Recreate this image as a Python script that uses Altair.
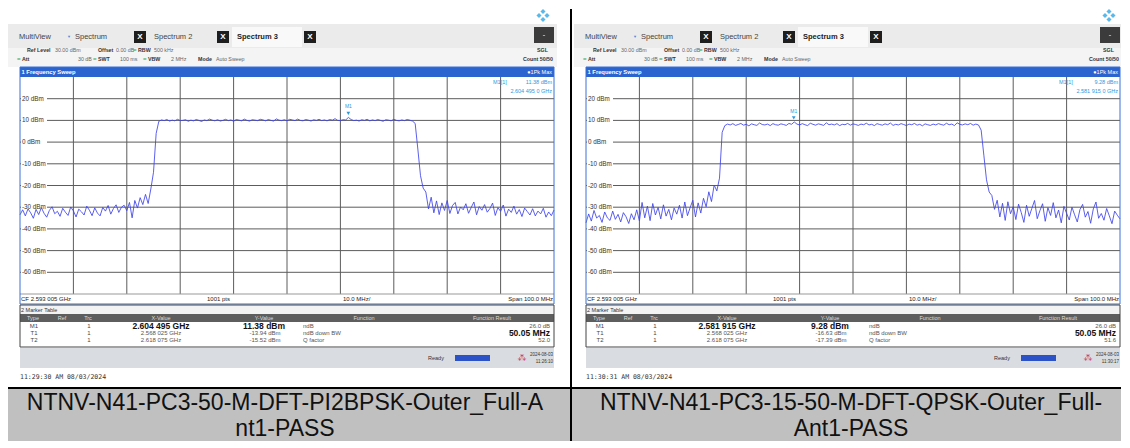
import altair as alt
import pandas as pd
import numpy as np

# ---------------- data ----------------
FREQ_START_MHZ = -50.0   # offset from CF 2.593 005 GHz
FREQ_STEP_MHZ = 0.5

LEFT_DBM = [
    # -50 .. -30 MHz
    -33.5, -31.2, -34.0, -30.8, -32.6, -35.1, -31.0, -33.4, -30.2, -32.8,
    -34.6, -31.5, -29.8, -33.0, -31.9, -34.2, -30.5, -32.3, -33.8, -29.9,
    -31.7, -34.5, -30.9, -32.1, -33.6, -29.5, -31.4, -33.9, -30.3, -32.7,
    -34.0, -30.1, -31.8, -29.2, -33.2, -30.6, -28.9, -32.4, -30.0, -29.1,
    -31.6,
    # -29.5 .. -25.5
    -27.8, -34.9, -26.9, -30.4, -25.6, -28.8, -24.1, -28.3, -21.6,
    # -25, -24.5
    -13.9, 4.0,
    # -24 .. 23 flat
    9.6, 10.2, 9.9, 10.4, 9.7, 10.1, 9.8, 10.5, 9.9, 10.0,
    10.3, 9.6, 10.1, 9.8, 10.4, 10.0, 9.5, 10.2, 9.9, 10.6,
    10.1, 9.8, 10.3, 9.7, 10.0, 10.5, 9.9, 10.2, 9.6, 10.4,
    10.1, 9.8, 10.6, 10.0, 9.7, 10.3, 10.1, 9.9, 10.5, 10.2,
    9.8, 10.4, 10.0, 9.7, 10.7, 10.1, 9.9, 10.3, 9.8, 10.5,
    10.2, 9.9, 10.6, 10.0, 9.8, 10.4, 10.1, 9.7, 10.3, 10.0,
    10.5, 9.9, 10.2, 9.8, 10.4, 10.1, 10.8, 10.0, 9.9, 10.3,
    10.2, 11.38, 10.4, 9.9, 10.1, 9.7, 10.3, 10.0, 10.5, 9.8,
    10.2, 9.9, 10.4, 10.0, 9.6, 10.3, 10.1, 9.8, 10.5, 10.0,
    9.8, 10.2, 9.9, 10.4, 10.1,
    # 23.5 .. 26
    9.7, 8.6, -3.2, -15.5, -21.2, -23.0,
    # 26.5 .. 50
    -30.8, -25.4, -32.6, -27.1, -33.4, -28.0, -31.5, -26.9, -32.9, -29.2,
    -27.8, -33.1, -29.9, -31.2, -28.4, -32.8, -30.1, -27.6, -33.5, -29.7,
    -31.4, -28.8, -32.3, -30.6, -28.1, -33.8, -30.2, -31.9, -29.0, -34.1,
    -30.9, -32.4, -29.5, -33.2, -31.1, -34.3, -30.4, -32.0, -33.6, -30.7,
    -34.0, -31.8, -33.1, -30.5, -34.6, -32.2, -33.9, -31.3,
]

RIGHT_DBM = [
    # -50 .. -40 MHz
    -37.2, -33.1, -36.4, -31.5, -35.0, -33.8, -37.0, -32.2, -34.9, -36.1,
    -31.8, -35.6, -33.3, -36.8, -32.5, -34.4, -37.5, -33.0, -35.8, -31.2,
    -36.3,
    # -39.5 .. -33.5
    -27.8, -34.9, -29.5, -36.2, -28.3, -33.6, -30.1, -35.4, -28.9, -34.1,
    -31.0, -35.8, -30.4,
    # -33 .. -28
    -33.2, -29.1, -35.0, -27.6, -33.9, -30.2, -26.8, -34.5, -28.0, -32.7,
    -25.9,
    # -27.5 .. -25.5
    -29.8, -22.9, -27.4, -19.8, -22.5,
    # -25, -24.5
    -16.6, 4.5,
    # -24 .. 23.5 flat
    7.6, 8.3, 7.9, 8.5, 7.7, 8.1, 8.6, 7.8, 8.2, 7.5,
    8.4, 8.0, 7.7, 8.8, 8.1, 7.9, 8.3, 7.6, 8.5, 8.0,
    7.8, 8.4, 8.1, 7.7, 8.6, 8.2, 9.28, 8.3, 7.9, 8.5,
    8.0, 7.6, 8.7, 8.2, 7.8, 8.4, 8.1, 7.7, 8.9, 8.0,
    8.3, 7.9, 8.5, 7.6, 8.2, 8.0, 8.6, 7.8, 8.4, 8.1,
    7.7, 8.3, 8.0, 8.7, 7.9, 8.2, 7.6, 8.5, 8.1, 7.8,
    8.4, 8.0, 8.8, 7.7, 8.2, 7.9, 8.5, 8.1, 7.6, 8.3,
    8.0, 8.6, 7.8, 8.2, 7.5, 8.4, 8.0, 7.7, 8.3, 7.9,
    8.5, 8.1, 7.8, 8.7, 8.0, 8.3, 7.6, 8.9, 8.2, 7.9,
    8.4, 8.0, 8.6, 7.8, 8.3, 7.9,
    # 24 .. 26
    5.5, -6.0, -17.4, -23.0, -24.6,
    # 26.5 .. 50
    -31.0, -26.8, -34.5, -28.2, -36.1, -27.5, -33.0, -29.8, -35.7, -28.6,
    -32.4, -37.0, -29.1, -34.2, -30.5, -26.9, -35.3, -31.6, -28.4, -36.5,
    -30.2, -33.8, -27.9, -34.9, -31.3, -37.2, -29.6, -32.8, -35.9, -30.0,
    -33.5, -36.8, -31.1, -28.7, -34.6, -32.0, -37.4, -30.8, -27.6, -35.1,
    -32.9, -36.0, -30.6, -34.0, -37.6, -31.8, -33.7, -35.4,
]

GRID_DBM = [20, 10, 0, -10, -20, -30, -40, -50, -60]
GRID_LABELS = ["20 dBm", "10 dBm", "0 dBm", "-10 dBm", "-20 dBm", "-30 dBm",
               "-40 dBm", "-50 dBm", "-60 dBm"]
GRID_MHZ = [-40, -30, -20, -10, 0, 10, 20, 30, 40]

M1_FREQ_MHZ = [11.49, -11.09]
M1_DBM = [11.38, 9.28]
M1_X_TEXT = ["2.604 495 GHz", "2.581 915 GHz"]
M1_Y_TEXT = ["11.38 dBm", "9.28 dBm"]
M1_READOUT = ["2.604 495 0 GHz", "2.581 915 0 GHz"]
T1_X_TEXT = ["2.568 025 GHz", "2.568 025 GHz"]
T1_Y_TEXT = ["-13.94 dBm", "-16.63 dBm"]
T2_X_TEXT = ["2.618 075 GHz", "2.618 075 GHz"]
T2_Y_TEXT = ["-15.52 dBm", "-17.39 dBm"]
Q_FACTOR = ["52.0", "51.6"]
STATUS_TIME = ["11:26:10", "11:30:17"]
STAMP = ["11:29:30 AM  08/03/2024", "11:30:31 AM  08/03/2024"]
CAPTION_1 = ["NTNV-N41-PC3-50-M-DFT-PI2BPSK-Outer_Full-A",
             "NTNV-N41-PC3-15-50-M-DFT-QPSK-Outer_Full-"]
CAPTION_2 = ["nt1-PASS", "Ant1-PASS"]

# ---------------- layout / style ----------------
W, H, TOP, BOTTOM = 534, 217, 76, 440
PLOT_LEFT = [20, 586]
PANEL_LEFT = [8, 572]
PANEL_RIGHT = [572, 1121]

UI = "Liberation Sans"
MONO = "DejaVu Sans Mono"
CAP_FONT = "Liberation Sans"
BLUE_BAR = "#2b63cf"
FRAME = "#3a70d6"
LB = "#2b9be0"
GRID = "#5c5c5c"
TRACE = "#3f43e8"

XS = alt.Scale(domain=[-50, 50], nice=False, zero=False)
YS = alt.Scale(domain=[-70, 30], nice=False, zero=False)
ONE = alt.InlineData(values=[{"a": 1}])


def panel(k):
    PL = PLOT_LEFT[k]
    P0 = PANEL_LEFT[k] - PL
    P1 = PANEL_RIGHT[k] - PL
    L = []

    def box(x0, x1, y0, y1, **kw):
        x0 = max(x0, P0)
        x1 = min(x1, P1)
        L.append(alt.Chart(ONE).mark_rect(**kw).encode(
            x=alt.value(x0), x2=alt.value(x1),
            y=alt.value(y0 - TOP), y2=alt.value(y1 - TOP)))

    def txt(x, y, s, size=5.5, color="#333333", bold=False, align="left", font=UI):
        kw = dict(text=s, fontSize=size, color=color, align=align,
                  baseline="middle", font=font)
        if bold:
            kw["fontWeight"] = "bold"
        L.append(alt.Chart(ONE).mark_text(**kw).encode(
            x=alt.value(x), y=alt.value(y - TOP)))

    def dot(x, y, size, color, shape="diamond"):
        L.append(alt.Chart(ONE).mark_point(shape=shape, filled=True, size=size,
                                           color=color, opacity=1).encode(
            x=alt.value(x), y=alt.value(y - TOP)))

    # bounds of the panel
    box(P0, P1, 8, BOTTOM, fill="white", fillOpacity=0)

    # header
    box(-12, W + 3, 23, 47, fill="#ebebeb")
    box(-12, W + 3, 47, 66, fill="#f4f4f4")
    box(212, 282, 26, 46, fill="#f9f9f9")
    box(W - 20, W, 26, 42, fill="#3b3b3b")
    txt(W - 10, 34, "-", size=7, color="white", align="center")
    # R&S style logo: four small diamonds
    lx, ly = W - 11, 14.5
    for ddx, ddy in ((0, -4), (-4, 0), (4, 0), (0, 4)):
        dot(lx + ddx, ly + ddy, 26, "#5ab8e8")
    txt(-1, 36, "MultiView", size=7.5, color="#444444")
    txt(47, 36, "\u25BC", size=4, color="#3b8fd9")
    txt(55, 36, "Spectrum", size=7.5, color="#444444")
    for bx in (114, 197, 284):
        box(bx, bx + 12, 30, 42, fill="#1e1e1e")
        txt(bx + 6, 36, "X", size=8, color="white", bold=True, align="center")
    txt(134, 36, "Spectrum 2", size=7.5, color="#444444")
    txt(217, 36, "Spectrum 3", size=7.5, color="#222222", bold=True)

    txt(7, 48.5, "Ref Level", size=5.3, bold=True)
    txt(35, 48.5, "30.00 dBm", size=5.3, color="#666666")
    txt(78, 48.5, "Offset", size=5.3, bold=True)
    txt(96, 48.5, "0.00 dB", size=5.3, color="#666666")
    txt(113, 48.5, "=", size=6, color="#2fa84f", bold=True)
    txt(118, 48.5, "RBW", size=5.3, bold=True)
    txt(134, 48.5, "500 kHz", size=5.3, color="#666666")
    txt(W - 17, 48.5, "SGL", size=5.3, bold=True)

    txt(-3, 57.5, "=", size=6, color="#2fa84f", bold=True)
    txt(2, 57.5, "Att", size=5.3, bold=True)
    txt(58, 57.5, "30 dB", size=5.3, color="#666666")
    txt(73, 57.5, "=", size=6, color="#2fa84f", bold=True)
    txt(78, 57.5, "SWT", size=5.3, bold=True)
    txt(100, 57.5, "100 ms", size=5.3, color="#666666")
    txt(123, 57.5, "=", size=6, color="#2fa84f", bold=True)
    txt(128, 57.5, "VBW", size=5.3, bold=True)
    txt(151, 57.5, "2 MHz", size=5.3, color="#666666")
    txt(178, 57.5, "Mode", size=5.3, bold=True)
    txt(196, 57.5, "Auto Sweep", size=5.3, color="#666666")
    txt(W - 1, 57.5, "Count 50/50", size=5.3, bold=True, align="right")

    # blue title bar
    box(0, W, 66, 76, fill=BLUE_BAR)
    txt(1.5, 71, "1 Frequency Sweep", size=5.8, color="white", bold=True)
    txt(W - 2, 71, "\u25CF1Pk Max", size=5.5, color="white", align="right")

    # status bar and marker table backgrounds
    box(0, W, 304, 313, fill="#f3f3f3")
    box(0, W, 313, 321, fill="#5e5e5e")
    box(0, W, 347, 367, fill="#d9dde2")
    box(435, 470, 354, 360, fill="#2c52c8")

    # caption area
    box(P0, P1, 386, 388, fill="black")
    box(P0, P1, 388, BOTTOM, fill="#c0c0c0")
    if k == 0:
        box(550, 552, 8, BOTTOM, fill="black")

    # grid
    L.append(alt.Chart(pd.DataFrame({"dbm": GRID_DBM})).mark_rule(
        color=GRID, strokeWidth=1).encode(
        y=alt.Y("dbm:Q", scale=YS, axis=None), x=alt.value(0), x2=alt.value(W)))
    L.append(alt.Chart(pd.DataFrame({"f": GRID_MHZ})).mark_rule(
        color=GRID, strokeWidth=1).encode(
        x=alt.X("f:Q", scale=XS, axis=None), y=alt.value(0), y2=alt.value(H)))
    box(0, W, TOP + H - 0.5, TOP + H + 0.5, fill="#9a9a9a")

    # y labels
    lab = pd.DataFrame({"dbm": GRID_DBM, "label": GRID_LABELS})
    L.append(alt.Chart(lab).transform_calculate(
        lo="datum.dbm - 1.6", hi="datum.dbm + 1.6").mark_rect(fill="white").encode(
        y=alt.Y("lo:Q", scale=YS, axis=None), y2="hi:Q",
        x=alt.value(1), x2=alt.value(27)))
    L.append(alt.Chart(lab).mark_text(align="left", baseline="middle", fontSize=6.3,
                                      color="#333333", font=UI).encode(
        y=alt.Y("dbm:Q", scale=YS, axis=None), text="label:N", x=alt.value(2)))

    # trace
    dbm = LEFT_DBM if k == 0 else RIGHT_DBM
    freq = FREQ_START_MHZ + FREQ_STEP_MHZ * np.arange(len(dbm))
    tr = pd.DataFrame({"f": freq, "dbm": dbm})
    L.append(alt.Chart(tr).mark_line(color=TRACE, strokeWidth=0.85).encode(
        x=alt.X("f:Q", scale=XS, axis=None), y=alt.Y("dbm:Q", scale=YS, axis=None)))

    # marker M1
    mk = pd.DataFrame({"f": [M1_FREQ_MHZ[k]], "dbm": [M1_DBM[k]]})
    L.append(alt.Chart(mk).mark_point(shape="triangle-down", filled=True, size=14,
                                      color=LB, opacity=1, yOffset=-4).encode(
        x=alt.X("f:Q", scale=XS, axis=None), y=alt.Y("dbm:Q", scale=YS, axis=None)))
    L.append(alt.Chart(mk).mark_text(text="M1", fontSize=5, color=LB, yOffset=-11,
                                     font=UI).encode(
        x=alt.X("f:Q", scale=XS, axis=None), y=alt.Y("dbm:Q", scale=YS, axis=None)))

    # frames
    box(0, W, 66, 303, fillOpacity=0, stroke=FRAME, strokeWidth=1)
    box(0, W, 304, 346, fillOpacity=0, stroke="#444444", strokeWidth=1)

    # marker readout
    txt(473, 81, "M1[1]", size=5.5, color=LB)
    txt(W - 2, 81, M1_Y_TEXT[k], size=5.5, color=LB, align="right")
    txt(W - 2, 90, M1_READOUT[k], size=5.5, color=LB, align="right")

    # bottom info row
    txt(1, 298, "CF 2.593 005 GHz", size=6, color="#222222")
    txt(187, 298, "1001 pts", size=6, color="#222222")
    txt(323, 298, "10.0 MHz/", size=6, color="#222222")
    txt(W - 1, 298, "Span 100.0 MHz", size=6, color="#222222", align="right")

    # marker table
    txt(1, 308.5, "2 Marker Table", size=5.5, color="#333333")
    for cx, s in ((13, "Type"), (42, "Ref"), (68, "Trc"), (141, "X-Value"),
                  (244, "Y-Value"), (344, "Function"), (472, "Function Result")):
        txt(cx, 317, s, size=5.5, color="#dddddd", align="center")
    rows = [
        ("M1", M1_X_TEXT[k], M1_Y_TEXT[k], "ndB", "26.0 dB", 324.5, True, False),
        ("T1", T1_X_TEXT[k], T1_Y_TEXT[k], "ndB down BW", "50.05 MHz", 331.5, False, True),
        ("T2", T2_X_TEXT[k], T2_Y_TEXT[k], "Q factor", Q_FACTOR[k], 338.5, False, False),
    ]
    for typ, xv, yv, fn, res, ry, big, bigres in rows:
        txt(14, ry, typ, size=6, color="#444444", align="center")
        txt(69, ry, "1", size=6, color="#444444", align="center")
        if big:
            txt(141, ry, xv, size=8.5, color="#111111", bold=True, align="center")
            txt(244, ry, yv, size=8.5, color="#111111", bold=True, align="center")
        else:
            txt(141, ry, xv, size=6, color="#555555", align="center")
            txt(245, ry, yv, size=6, color="#555555", align="center")
        txt(283, ry, fn, size=6, color="#555555")
        if bigres:
            txt(W - 4, ry, res, size=8.5, color="#111111", bold=True, align="right")
        else:
            txt(W - 4, ry, res, size=6, color="#555555", align="right")

    # status bar
    txt(408, 357, "Ready", size=5.5, color="#333333")
    txt(502, 357, "\u2042", size=9, color="#d02828", align="center", font="DejaVu Sans")
    txt(W - 1, 353.5, "2024-08-03", size=4.5, color="#333333", align="right")
    txt(W - 1, 360.5, STATUS_TIME[k], size=4.5, color="#333333", align="right")

    # timestamp under the screenshot
    txt(0, 376, STAMP[k], size=6.5, color="#333333", font=MONO)

    # caption
    cx = (285 if k == 0 else 851) - PL
    txt(cx, 402, CAPTION_1[k], size=23, color="#111111", align="center", font=CAP_FONT)
    txt(cx, 427.5, CAPTION_2[k], size=23, color="#111111", align="center", font=CAP_FONT)

    return alt.layer(*L).properties(width=W, height=H)


chart = alt.hconcat(panel(0), panel(1), spacing=0).properties(
    padding=0, background="white").configure_view(stroke=None)

chart.save("out.html", embed_options={"renderer": "svg", "actions": False})
